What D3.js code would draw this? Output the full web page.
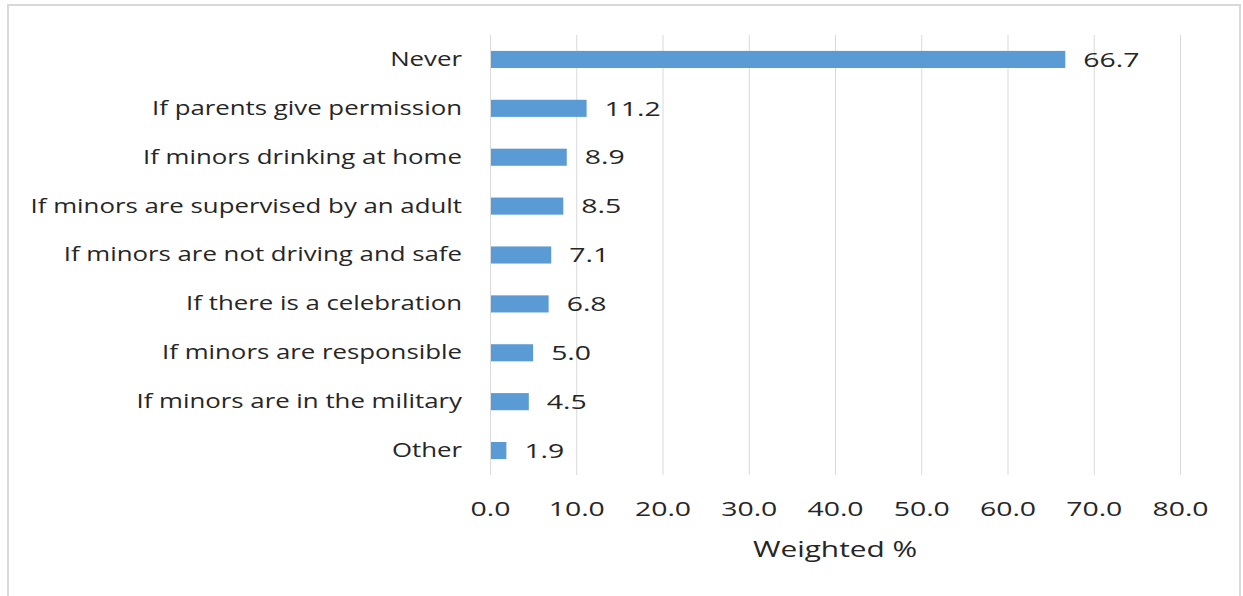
<!DOCTYPE html>
<html>
<head>
<meta charset="utf-8">
<script src="https://cdn.jsdelivr.net/npm/d3@7"></script>
<style>
  html, body { margin: 0; padding: 0; background: #fff; }
  svg { display: block; }
  text { font-family: "Open Sans", "Noto Sans", sans-serif; fill: #262626; }
</style>
</head>
<body>
<svg id="chart" width="1243" height="596"></svg>
<script>
// Exceptions under which minors may drink (weighted %)
const categories = [
  "Never",
  "If parents give permission",
  "If minors drinking at home",
  "If minors are supervised by an adult",
  "If minors are not driving and safe",
  "If there is a celebration",
  "If minors are responsible",
  "If minors are in the military",
  "Other"
];
const values = [66.7, 11.2, 8.9, 8.5, 7.1, 6.8, 5.0, 4.5, 1.9];
const xTicks = [0, 10, 20, 30, 40, 50, 60, 70, 80];
const xTitle = "Weighted %";

const FONT = 20;
// horizontal stretch of the wide label typeface
const SX_CAT = 1.29, SX_NUM = 1.42;

const svg = d3.select("#chart");

// chart frame
svg.append("rect")
  .attr("x", 8).attr("y", 5)
  .attr("width", 1232).attr("height", 620)
  .attr("fill", "none")
  .attr("stroke", "#d9d9d9")
  .attr("stroke-width", 2);

const x = d3.scaleLinear().domain([0, 80]).range([490, 1180]);
const y = d3.scaleBand().domain(categories).range([35, 475]).paddingInner(0.65).paddingOuter(0.325);

// vertical gridlines
svg.append("g")
  .selectAll("line")
  .data(xTicks)
  .join("line")
  .attr("x1", d => x(d) + 0.5).attr("x2", d => x(d) + 0.5)
  .attr("y1", 35).attr("y2", 475)
  .attr("stroke", "#d9d9d9")
  .attr("stroke-width", 1);

// x axis tick labels
const xAxis = d3.axisBottom(x).tickValues(xTicks).tickFormat(d3.format(".1f")).tickSize(0).tickPadding(0);
const gx = svg.append("g").attr("transform", "translate(0,501)").call(xAxis);
gx.select(".domain").remove();
gx.selectAll("text")
  .attr("font-size", FONT)
  .attr("dy", "0.75em")
  .attr("transform", `scale(${SX_NUM},1)`)
  .style("font-family", "\"Open Sans\", sans-serif")
  .attr("fill", "#262626");

// category labels
const yAxis = d3.axisLeft(y).tickSize(0).tickPadding(0);
const gy = svg.append("g").attr("transform", "translate(462,0)").call(yAxis);
gy.select(".domain").remove();
gy.selectAll("text")
  .attr("font-size", FONT)
  .attr("transform", `scale(${SX_CAT},1)`)
  .style("font-family", "\"Open Sans\", sans-serif")
  .attr("fill", "#262626");

// bars
svg.append("g")
  .selectAll("rect")
  .data(values)
  .join("rect")
  .attr("x", x(0) + 1)
  .attr("y", (d, i) => y(categories[i]))
  .attr("width", d => x(d) - x(0) - 1)
  .attr("height", y.bandwidth())
  .attr("fill", "#5b9bd5");

// value labels
svg.append("g")
  .selectAll("text")
  .data(values)
  .join("text")
  .attr("transform", (d, i) =>
    `translate(${x(d) + 18},${y(categories[i]) + y.bandwidth() / 2}) scale(${SX_NUM},1)`)
  .attr("dy", "0.36em")
  .attr("font-size", FONT)
  .text(d => d3.format(".1f")(d));

// axis title
svg.append("text")
  .attr("transform", `translate(835,557) scale(${SX_NUM},1)`)
  .attr("text-anchor", "middle")
  .attr("font-size", FONT + 1)
  .text(xTitle);
</script>
</body>
</html>
